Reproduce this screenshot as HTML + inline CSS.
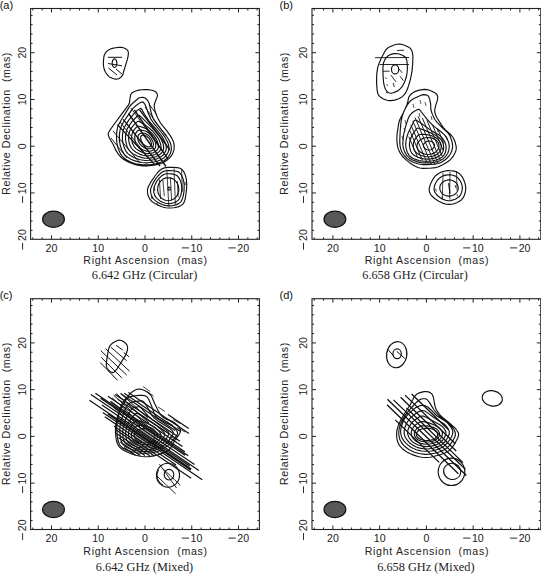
<!DOCTYPE html>
<html><head><meta charset="utf-8"><style>
html,body{margin:0;padding:0;background:#fff;}
svg{display:block;}
.t{font-family:"Liberation Sans",sans-serif;font-size:10.6px;fill:#222;}
.cap{font-family:"Liberation Serif",serif;font-size:12.3px;fill:#222;}
.pl{font-family:"Liberation Sans",sans-serif;font-size:11px;fill:#111;}
</style></head><body>
<svg width="541" height="574" viewBox="0 0 541 574">
<rect width="541" height="574" fill="#fff"/>
<rect x="30.60" y="8.50" width="228.80" height="230.80" fill="none" stroke="#222" stroke-width="1.1"/>
<path d="M257.20 239.30v-2.0M257.20 8.50v2.0M247.85 239.30v-2.0M247.85 8.50v2.0M238.50 239.30v-4.0M238.50 8.50v4.0M229.15 239.30v-2.0M229.15 8.50v2.0M219.80 239.30v-2.0M219.80 8.50v2.0M210.45 239.30v-2.0M210.45 8.50v2.0M201.10 239.30v-2.0M201.10 8.50v2.0M191.75 239.30v-4.0M191.75 8.50v4.0M182.40 239.30v-2.0M182.40 8.50v2.0M173.05 239.30v-2.0M173.05 8.50v2.0M163.70 239.30v-2.0M163.70 8.50v2.0M154.35 239.30v-2.0M154.35 8.50v2.0M145.00 239.30v-4.0M145.00 8.50v4.0M135.65 239.30v-2.0M135.65 8.50v2.0M126.30 239.30v-2.0M126.30 8.50v2.0M116.95 239.30v-2.0M116.95 8.50v2.0M107.60 239.30v-2.0M107.60 8.50v2.0M98.25 239.30v-4.0M98.25 8.50v4.0M88.90 239.30v-2.0M88.90 8.50v2.0M79.55 239.30v-2.0M79.55 8.50v2.0M70.20 239.30v-2.0M70.20 8.50v2.0M60.85 239.30v-2.0M60.85 8.50v2.0M51.50 239.30v-4.0M51.50 8.50v4.0M42.15 239.30v-2.0M42.15 8.50v2.0M32.80 239.30v-2.0M32.80 8.50v2.0M30.60 230.35h2.0M259.40 230.35h-2.0M30.60 221.00h2.0M259.40 221.00h-2.0M30.60 211.65h2.0M259.40 211.65h-2.0M30.60 202.30h2.0M259.40 202.30h-2.0M30.60 192.95h4.0M259.40 192.95h-4.0M30.60 183.60h2.0M259.40 183.60h-2.0M30.60 174.25h2.0M259.40 174.25h-2.0M30.60 164.90h2.0M259.40 164.90h-2.0M30.60 155.55h2.0M259.40 155.55h-2.0M30.60 146.20h4.0M259.40 146.20h-4.0M30.60 136.85h2.0M259.40 136.85h-2.0M30.60 127.50h2.0M259.40 127.50h-2.0M30.60 118.15h2.0M259.40 118.15h-2.0M30.60 108.80h2.0M259.40 108.80h-2.0M30.60 99.45h4.0M259.40 99.45h-4.0M30.60 90.10h2.0M259.40 90.10h-2.0M30.60 80.75h2.0M259.40 80.75h-2.0M30.60 71.40h2.0M259.40 71.40h-2.0M30.60 62.05h2.0M259.40 62.05h-2.0M30.60 52.70h4.0M259.40 52.70h-4.0M30.60 43.35h2.0M259.40 43.35h-2.0M30.60 34.00h2.0M259.40 34.00h-2.0M30.60 24.65h2.0M259.40 24.65h-2.0M30.60 15.30h2.0M259.40 15.30h-2.0" stroke="#222" stroke-width="1" fill="none"/>
<text x="51.50" y="251.50" class="t" text-anchor="middle">20</text>
<text x="98.25" y="251.50" class="t" text-anchor="middle">10</text>
<text x="145.00" y="251.50" class="t" text-anchor="middle">0</text>
<text x="190.55" y="251.50" class="t">10</text>
<path d="M181.75 247.90h7.3" stroke="#222" stroke-width="0.95"/>
<text x="237.30" y="251.50" class="t">20</text>
<path d="M228.50 247.90h7.3" stroke="#222" stroke-width="0.95"/>
<text transform="translate(26.20 52.70) rotate(-90)" class="t" text-anchor="middle">20</text>
<text transform="translate(26.20 99.45) rotate(-90)" class="t" text-anchor="middle">10</text>
<text transform="translate(26.20 146.20) rotate(-90)" class="t" text-anchor="middle">0</text>
<text transform="translate(26.20 194.25) rotate(-90)" class="t">10</text>
<path d="M22.60 196.15v6.8" stroke="#222" stroke-width="0.95"/>
<text transform="translate(26.20 241.00) rotate(-90)" class="t">20</text>
<path d="M22.60 242.90v6.8" stroke="#222" stroke-width="0.95"/>
<text x="83.30" y="264.20" class="t" textLength="123.8" lengthAdjust="spacing">Right Ascension  (mas)</text>
<text transform="translate(10.40 194.80) rotate(-90)" class="t" textLength="142.2" lengthAdjust="spacing">Relative Declination  (mas)</text>
<text x="144.50" y="279.20" class="cap" text-anchor="middle">6.642 GHz (Circular)</text>
<text x="-0.30" y="9.00" class="pl">(a)</text>
<ellipse cx="53.51" cy="219.32" rx="10.9" ry="8.1" fill="#585858" stroke="#111" stroke-width="1.2"/>
<rect x="312.00" y="8.50" width="228.80" height="230.80" fill="none" stroke="#222" stroke-width="1.1"/>
<path d="M538.60 239.30v-2.0M538.60 8.50v2.0M529.25 239.30v-2.0M529.25 8.50v2.0M519.90 239.30v-4.0M519.90 8.50v4.0M510.55 239.30v-2.0M510.55 8.50v2.0M501.20 239.30v-2.0M501.20 8.50v2.0M491.85 239.30v-2.0M491.85 8.50v2.0M482.50 239.30v-2.0M482.50 8.50v2.0M473.15 239.30v-4.0M473.15 8.50v4.0M463.80 239.30v-2.0M463.80 8.50v2.0M454.45 239.30v-2.0M454.45 8.50v2.0M445.10 239.30v-2.0M445.10 8.50v2.0M435.75 239.30v-2.0M435.75 8.50v2.0M426.40 239.30v-4.0M426.40 8.50v4.0M417.05 239.30v-2.0M417.05 8.50v2.0M407.70 239.30v-2.0M407.70 8.50v2.0M398.35 239.30v-2.0M398.35 8.50v2.0M389.00 239.30v-2.0M389.00 8.50v2.0M379.65 239.30v-4.0M379.65 8.50v4.0M370.30 239.30v-2.0M370.30 8.50v2.0M360.95 239.30v-2.0M360.95 8.50v2.0M351.60 239.30v-2.0M351.60 8.50v2.0M342.25 239.30v-2.0M342.25 8.50v2.0M332.90 239.30v-4.0M332.90 8.50v4.0M323.55 239.30v-2.0M323.55 8.50v2.0M314.20 239.30v-2.0M314.20 8.50v2.0M312.00 230.35h2.0M540.80 230.35h-2.0M312.00 221.00h2.0M540.80 221.00h-2.0M312.00 211.65h2.0M540.80 211.65h-2.0M312.00 202.30h2.0M540.80 202.30h-2.0M312.00 192.95h4.0M540.80 192.95h-4.0M312.00 183.60h2.0M540.80 183.60h-2.0M312.00 174.25h2.0M540.80 174.25h-2.0M312.00 164.90h2.0M540.80 164.90h-2.0M312.00 155.55h2.0M540.80 155.55h-2.0M312.00 146.20h4.0M540.80 146.20h-4.0M312.00 136.85h2.0M540.80 136.85h-2.0M312.00 127.50h2.0M540.80 127.50h-2.0M312.00 118.15h2.0M540.80 118.15h-2.0M312.00 108.80h2.0M540.80 108.80h-2.0M312.00 99.45h4.0M540.80 99.45h-4.0M312.00 90.10h2.0M540.80 90.10h-2.0M312.00 80.75h2.0M540.80 80.75h-2.0M312.00 71.40h2.0M540.80 71.40h-2.0M312.00 62.05h2.0M540.80 62.05h-2.0M312.00 52.70h4.0M540.80 52.70h-4.0M312.00 43.35h2.0M540.80 43.35h-2.0M312.00 34.00h2.0M540.80 34.00h-2.0M312.00 24.65h2.0M540.80 24.65h-2.0M312.00 15.30h2.0M540.80 15.30h-2.0" stroke="#222" stroke-width="1" fill="none"/>
<text x="332.90" y="251.50" class="t" text-anchor="middle">20</text>
<text x="379.65" y="251.50" class="t" text-anchor="middle">10</text>
<text x="426.40" y="251.50" class="t" text-anchor="middle">0</text>
<text x="471.95" y="251.50" class="t">10</text>
<path d="M463.15 247.90h7.3" stroke="#222" stroke-width="0.95"/>
<text x="518.70" y="251.50" class="t">20</text>
<path d="M509.90 247.90h7.3" stroke="#222" stroke-width="0.95"/>
<text transform="translate(307.10 52.70) rotate(-90)" class="t" text-anchor="middle">20</text>
<text transform="translate(307.10 99.45) rotate(-90)" class="t" text-anchor="middle">10</text>
<text transform="translate(307.10 146.20) rotate(-90)" class="t" text-anchor="middle">0</text>
<text transform="translate(307.10 194.25) rotate(-90)" class="t">10</text>
<path d="M303.50 196.15v6.8" stroke="#222" stroke-width="0.95"/>
<text transform="translate(307.10 241.00) rotate(-90)" class="t">20</text>
<path d="M303.50 242.90v6.8" stroke="#222" stroke-width="0.95"/>
<text x="364.70" y="264.20" class="t" textLength="123.8" lengthAdjust="spacing">Right Ascension  (mas)</text>
<text transform="translate(288.40 194.80) rotate(-90)" class="t" textLength="142.2" lengthAdjust="spacing">Relative Declination  (mas)</text>
<text x="415.00" y="279.20" class="cap" text-anchor="middle">6.658 GHz (Circular)</text>
<text x="279.50" y="9.00" class="pl">(b)</text>
<ellipse cx="334.91" cy="219.32" rx="10.9" ry="8.1" fill="#585858" stroke="#111" stroke-width="1.2"/>
<rect x="30.60" y="298.70" width="228.80" height="230.80" fill="none" stroke="#222" stroke-width="1.1"/>
<path d="M257.20 529.50v-2.0M257.20 298.70v2.0M247.85 529.50v-2.0M247.85 298.70v2.0M238.50 529.50v-4.0M238.50 298.70v4.0M229.15 529.50v-2.0M229.15 298.70v2.0M219.80 529.50v-2.0M219.80 298.70v2.0M210.45 529.50v-2.0M210.45 298.70v2.0M201.10 529.50v-2.0M201.10 298.70v2.0M191.75 529.50v-4.0M191.75 298.70v4.0M182.40 529.50v-2.0M182.40 298.70v2.0M173.05 529.50v-2.0M173.05 298.70v2.0M163.70 529.50v-2.0M163.70 298.70v2.0M154.35 529.50v-2.0M154.35 298.70v2.0M145.00 529.50v-4.0M145.00 298.70v4.0M135.65 529.50v-2.0M135.65 298.70v2.0M126.30 529.50v-2.0M126.30 298.70v2.0M116.95 529.50v-2.0M116.95 298.70v2.0M107.60 529.50v-2.0M107.60 298.70v2.0M98.25 529.50v-4.0M98.25 298.70v4.0M88.90 529.50v-2.0M88.90 298.70v2.0M79.55 529.50v-2.0M79.55 298.70v2.0M70.20 529.50v-2.0M70.20 298.70v2.0M60.85 529.50v-2.0M60.85 298.70v2.0M51.50 529.50v-4.0M51.50 298.70v4.0M42.15 529.50v-2.0M42.15 298.70v2.0M32.80 529.50v-2.0M32.80 298.70v2.0M30.60 520.55h2.0M259.40 520.55h-2.0M30.60 511.20h2.0M259.40 511.20h-2.0M30.60 501.85h2.0M259.40 501.85h-2.0M30.60 492.50h2.0M259.40 492.50h-2.0M30.60 483.15h4.0M259.40 483.15h-4.0M30.60 473.80h2.0M259.40 473.80h-2.0M30.60 464.45h2.0M259.40 464.45h-2.0M30.60 455.10h2.0M259.40 455.10h-2.0M30.60 445.75h2.0M259.40 445.75h-2.0M30.60 436.40h4.0M259.40 436.40h-4.0M30.60 427.05h2.0M259.40 427.05h-2.0M30.60 417.70h2.0M259.40 417.70h-2.0M30.60 408.35h2.0M259.40 408.35h-2.0M30.60 399.00h2.0M259.40 399.00h-2.0M30.60 389.65h4.0M259.40 389.65h-4.0M30.60 380.30h2.0M259.40 380.30h-2.0M30.60 370.95h2.0M259.40 370.95h-2.0M30.60 361.60h2.0M259.40 361.60h-2.0M30.60 352.25h2.0M259.40 352.25h-2.0M30.60 342.90h4.0M259.40 342.90h-4.0M30.60 333.55h2.0M259.40 333.55h-2.0M30.60 324.20h2.0M259.40 324.20h-2.0M30.60 314.85h2.0M259.40 314.85h-2.0M30.60 305.50h2.0M259.40 305.50h-2.0" stroke="#222" stroke-width="1" fill="none"/>
<text x="51.50" y="541.70" class="t" text-anchor="middle">20</text>
<text x="98.25" y="541.70" class="t" text-anchor="middle">10</text>
<text x="145.00" y="541.70" class="t" text-anchor="middle">0</text>
<text x="190.55" y="541.70" class="t">10</text>
<path d="M181.75 538.10h7.3" stroke="#222" stroke-width="0.95"/>
<text x="237.30" y="541.70" class="t">20</text>
<path d="M228.50 538.10h7.3" stroke="#222" stroke-width="0.95"/>
<text transform="translate(26.20 342.90) rotate(-90)" class="t" text-anchor="middle">20</text>
<text transform="translate(26.20 389.65) rotate(-90)" class="t" text-anchor="middle">10</text>
<text transform="translate(26.20 436.40) rotate(-90)" class="t" text-anchor="middle">0</text>
<text transform="translate(26.20 484.45) rotate(-90)" class="t">10</text>
<path d="M22.60 486.35v6.8" stroke="#222" stroke-width="0.95"/>
<text transform="translate(26.20 531.20) rotate(-90)" class="t">20</text>
<path d="M22.60 533.10v6.8" stroke="#222" stroke-width="0.95"/>
<text x="83.30" y="554.90" class="t" textLength="123.8" lengthAdjust="spacing">Right Ascension  (mas)</text>
<text transform="translate(10.40 485.00) rotate(-90)" class="t" textLength="142.2" lengthAdjust="spacing">Relative Declination  (mas)</text>
<text x="144.50" y="571.40" class="cap" text-anchor="middle">6.642 GHz (Mixed)</text>
<text x="-0.30" y="299.20" class="pl">(c)</text>
<ellipse cx="53.51" cy="509.52" rx="10.9" ry="8.1" fill="#585858" stroke="#111" stroke-width="1.2"/>
<rect x="312.00" y="298.70" width="228.80" height="230.80" fill="none" stroke="#222" stroke-width="1.1"/>
<path d="M538.60 529.50v-2.0M538.60 298.70v2.0M529.25 529.50v-2.0M529.25 298.70v2.0M519.90 529.50v-4.0M519.90 298.70v4.0M510.55 529.50v-2.0M510.55 298.70v2.0M501.20 529.50v-2.0M501.20 298.70v2.0M491.85 529.50v-2.0M491.85 298.70v2.0M482.50 529.50v-2.0M482.50 298.70v2.0M473.15 529.50v-4.0M473.15 298.70v4.0M463.80 529.50v-2.0M463.80 298.70v2.0M454.45 529.50v-2.0M454.45 298.70v2.0M445.10 529.50v-2.0M445.10 298.70v2.0M435.75 529.50v-2.0M435.75 298.70v2.0M426.40 529.50v-4.0M426.40 298.70v4.0M417.05 529.50v-2.0M417.05 298.70v2.0M407.70 529.50v-2.0M407.70 298.70v2.0M398.35 529.50v-2.0M398.35 298.70v2.0M389.00 529.50v-2.0M389.00 298.70v2.0M379.65 529.50v-4.0M379.65 298.70v4.0M370.30 529.50v-2.0M370.30 298.70v2.0M360.95 529.50v-2.0M360.95 298.70v2.0M351.60 529.50v-2.0M351.60 298.70v2.0M342.25 529.50v-2.0M342.25 298.70v2.0M332.90 529.50v-4.0M332.90 298.70v4.0M323.55 529.50v-2.0M323.55 298.70v2.0M314.20 529.50v-2.0M314.20 298.70v2.0M312.00 520.55h2.0M540.80 520.55h-2.0M312.00 511.20h2.0M540.80 511.20h-2.0M312.00 501.85h2.0M540.80 501.85h-2.0M312.00 492.50h2.0M540.80 492.50h-2.0M312.00 483.15h4.0M540.80 483.15h-4.0M312.00 473.80h2.0M540.80 473.80h-2.0M312.00 464.45h2.0M540.80 464.45h-2.0M312.00 455.10h2.0M540.80 455.10h-2.0M312.00 445.75h2.0M540.80 445.75h-2.0M312.00 436.40h4.0M540.80 436.40h-4.0M312.00 427.05h2.0M540.80 427.05h-2.0M312.00 417.70h2.0M540.80 417.70h-2.0M312.00 408.35h2.0M540.80 408.35h-2.0M312.00 399.00h2.0M540.80 399.00h-2.0M312.00 389.65h4.0M540.80 389.65h-4.0M312.00 380.30h2.0M540.80 380.30h-2.0M312.00 370.95h2.0M540.80 370.95h-2.0M312.00 361.60h2.0M540.80 361.60h-2.0M312.00 352.25h2.0M540.80 352.25h-2.0M312.00 342.90h4.0M540.80 342.90h-4.0M312.00 333.55h2.0M540.80 333.55h-2.0M312.00 324.20h2.0M540.80 324.20h-2.0M312.00 314.85h2.0M540.80 314.85h-2.0M312.00 305.50h2.0M540.80 305.50h-2.0" stroke="#222" stroke-width="1" fill="none"/>
<text x="332.90" y="541.70" class="t" text-anchor="middle">20</text>
<text x="379.65" y="541.70" class="t" text-anchor="middle">10</text>
<text x="426.40" y="541.70" class="t" text-anchor="middle">0</text>
<text x="471.95" y="541.70" class="t">10</text>
<path d="M463.15 538.10h7.3" stroke="#222" stroke-width="0.95"/>
<text x="518.70" y="541.70" class="t">20</text>
<path d="M509.90 538.10h7.3" stroke="#222" stroke-width="0.95"/>
<text transform="translate(307.10 342.90) rotate(-90)" class="t" text-anchor="middle">20</text>
<text transform="translate(307.10 389.65) rotate(-90)" class="t" text-anchor="middle">10</text>
<text transform="translate(307.10 436.40) rotate(-90)" class="t" text-anchor="middle">0</text>
<text transform="translate(307.10 484.45) rotate(-90)" class="t">10</text>
<path d="M303.50 486.35v6.8" stroke="#222" stroke-width="0.95"/>
<text transform="translate(307.10 531.20) rotate(-90)" class="t">20</text>
<path d="M303.50 533.10v6.8" stroke="#222" stroke-width="0.95"/>
<text x="364.70" y="554.90" class="t" textLength="123.8" lengthAdjust="spacing">Right Ascension  (mas)</text>
<text transform="translate(288.40 485.00) rotate(-90)" class="t" textLength="142.2" lengthAdjust="spacing">Relative Declination  (mas)</text>
<text x="425.90" y="571.40" class="cap" text-anchor="middle">6.658 GHz (Mixed)</text>
<text x="279.50" y="299.20" class="pl">(d)</text>
<ellipse cx="334.91" cy="509.52" rx="10.9" ry="8.1" fill="#585858" stroke="#111" stroke-width="1.2"/>
<path d="M103.4 61.3 103.9 56.9 104.2 55.3 104.8 54.0 106.1 52.2 107.1 51.1 109.0 49.7 110.5 49.0 112.3 48.4 115.5 47.8 118.7 47.4 121.3 47.4 123.4 47.8 125.6 48.7 127.2 49.9 127.9 50.9 128.3 52.1 128.4 53.5 128.1 56.1 127.3 59.7 123.8 71.0 123.1 73.9 122.4 75.4 121.3 76.9 120.2 77.8 119.1 78.5 117.4 79.0 116.0 79.1 114.5 78.9 112.8 78.5 110.0 77.3 109.0 76.6 107.6 75.2 105.6 72.5 104.4 69.8 103.8 67.6 103.4 65.0 103.4 61.3ZM116.8 63.1 116.8 63.5 116.8 63.9 116.7 64.3 116.6 64.7 116.5 65.1 116.4 65.4 116.3 65.8 116.1 66.1 116.0 66.3 115.8 66.6 115.6 66.8 115.4 67.0 115.2 67.1 114.9 67.2 114.7 67.3 114.5 67.3 114.3 67.3 114.1 67.2 113.8 67.1 113.6 67.0 113.4 66.8 113.2 66.6 113.0 66.3 112.9 66.1 112.7 65.8 112.6 65.4 112.5 65.1 112.4 64.7 112.3 64.3 112.2 63.9 112.2 63.5 112.2 63.1 112.2 62.7 112.2 62.3 112.3 61.9 112.4 61.5 112.5 61.1 112.6 60.8 112.7 60.4 112.9 60.1 113.0 59.9 113.2 59.6 113.4 59.4 113.6 59.2 113.8 59.1 114.1 59.0 114.3 58.9 114.5 58.9 114.7 58.9 114.9 59.0 115.2 59.1 115.4 59.2 115.6 59.4 115.8 59.6 116.0 59.9 116.1 60.1 116.3 60.4 116.4 60.8 116.5 61.1 116.6 61.5 116.7 61.9 116.8 62.3 116.8 62.7Z" fill="none" stroke="#111" stroke-width="1.15" stroke-linejoin="round"/>
<path d="M108.0 57.3L122.0 57.3M108.0 63.5L122.0 65.8M108.5 68.0L117.0 75.0M116.0 69.0L122.5 74.5" stroke="#111" stroke-width="1.0" fill="none" stroke-linecap="butt"/>
<path d="M130.0 98.5 130.6 95.2 131.0 94.2 131.6 93.3 132.5 92.5 134.4 91.5 136.5 90.7 138.9 90.1 141.7 89.7 144.6 89.6 147.3 89.6 150.6 90.0 152.9 90.5 154.7 91.2 156.0 92.2 156.9 93.4 157.4 94.7 157.4 96.1 154.8 103.0 154.2 105.4 154.2 106.7 154.5 108.7 155.5 112.5 157.6 117.8 160.2 122.5 162.3 125.3 166.9 130.9 170.2 135.6 171.9 138.4 173.5 141.8 174.2 144.8 174.2 146.9 173.9 149.9 173.2 152.2 172.2 154.4 170.8 156.5 168.8 158.6 166.5 160.6 163.9 162.3 161.9 163.2 158.6 164.2 153.9 165.1 149.4 165.7 145.9 165.9 142.6 165.9 139.4 165.5 136.3 164.9 133.4 164.0 129.4 162.5 125.4 160.4 122.8 158.7 121.3 157.5 119.5 155.7 117.6 153.1 115.9 150.4 113.2 144.5 109.8 138.7 108.8 136.5 108.2 134.8 108.2 134.0 108.4 133.0 109.6 130.7 114.3 124.0 120.3 115.8 128.4 105.1 129.4 102.9 130.0 98.5ZM134.4 101.7 138.2 98.5 139.3 97.8 140.5 97.5 142.2 97.3 144.0 97.6 145.5 98.3 147.1 99.7 148.4 101.7 149.3 103.7 151.0 112.0 152.5 116.8 154.0 120.0 156.8 124.0 165.9 135.2 168.2 138.7 170.1 142.3 171.0 145.0 171.4 148.3 171.3 149.9 171.0 151.5 170.2 153.8 168.3 156.8 166.5 158.8 164.2 160.5 161.4 162.0 158.3 163.1 155.0 164.0 152.7 164.4 149.1 164.8 143.0 164.8 139.4 164.4 135.8 163.7 132.4 162.7 130.4 161.9 127.4 160.3 125.6 159.2 123.2 157.2 121.9 155.8 120.7 154.2 119.4 151.6 118.3 148.9 117.5 146.1 116.9 143.1 116.6 140.0 116.5 136.0 116.7 132.8 117.1 129.8 117.7 127.1 119.0 124.1 121.8 119.0 128.7 107.9 130.0 106.0 131.3 104.5 134.4 101.7ZM150.5 146.4 149.8 146.8 149.0 146.9 148.0 146.9 147.0 146.6 144.9 145.4 142.9 143.6 141.4 141.3 140.7 139.0 140.6 138.0 140.7 137.0 141.0 136.2 141.5 135.6 142.2 135.2 143.0 135.1 144.0 135.1 145.0 135.4 147.1 136.6 149.1 138.4 150.6 140.7 151.3 143.0 151.4 144.0 151.3 145.0 151.0 145.8 150.5 146.4ZM147.9 162.8 144.9 162.8 141.7 162.5 135.7 161.1 131.4 159.5 128.9 158.1 126.4 156.3 125.0 155.1 123.8 153.6 121.7 149.8 120.2 145.3 119.4 140.1 119.4 134.6 120.2 129.3 121.4 126.1 124.0 121.3 128.8 114.1 133.2 108.2 135.2 106.3 139.7 102.9 141.7 102.0 142.7 102.1 143.4 102.4 144.8 104.1 145.8 106.3 148.2 113.1 150.9 119.1 153.4 122.8 161.9 133.0 164.7 136.8 167.7 142.3 168.5 144.8 168.9 146.8 168.8 149.8 168.0 152.6 165.9 155.9 163.9 157.8 160.9 159.7 157.2 161.2 152.7 162.3 147.9 162.8ZM150.2 160.3 145.2 160.5 140.2 159.7 135.2 158.1 131.2 156.0 127.9 153.6 126.0 151.3 124.3 147.8 123.0 143.3 122.4 139.3 122.5 134.8 123.2 130.3 124.4 127.3 128.4 120.6 134.2 113.4 137.3 110.3 140.4 108.4 141.1 108.6 141.6 109.1 144.5 114.3 149.1 121.1 156.9 130.1 161.7 136.1 164.5 141.1 165.5 143.3 166.2 145.8 166.3 148.6 165.8 150.8 164.5 153.3 162.9 155.3 160.4 157.1 157.4 158.6 153.9 159.7 150.2 160.3ZM149.7 158.1 145.9 158.2 142.2 157.6 137.7 156.2 134.3 154.6 131.4 152.6 129.1 150.3 127.5 147.6 126.3 144.1 125.6 139.8 125.5 136.1 126.0 132.6 126.8 129.6 128.8 126.1 131.9 121.7 135.9 117.5 137.7 115.9 138.7 115.3 139.4 115.5 140.2 116.1 152.2 127.8 155.8 131.8 158.7 135.3 160.7 138.3 162.2 141.6 163.3 144.6 163.7 147.1 163.5 149.3 162.7 151.3 161.2 153.3 159.0 155.1 156.2 156.5 152.9 157.6 149.7 158.1ZM148.9 155.8 145.9 155.8 142.9 155.2 139.5 154.1 136.5 152.6 134.0 150.8 131.9 148.8 130.7 146.9 129.5 144.1 128.8 140.8 128.6 137.3 128.8 134.3 129.6 131.3 131.0 128.6 133.2 125.6 135.9 122.8 137.9 121.4 138.7 121.3 139.4 121.6 145.9 125.6 148.7 127.6 152.2 130.7 154.8 133.6 157.4 137.1 159.1 139.8 160.3 143.1 160.9 145.6 161.1 148.1 160.5 149.8 159.4 151.4 157.5 153.1 154.9 154.5 151.9 155.4 148.9 155.8ZM147.4 153.6 145.4 153.4 142.7 152.5 139.9 151.3 137.9 150.1 136.0 148.6 134.3 146.8 132.5 143.3 131.9 140.8 131.6 138.6 131.7 135.8 132.2 133.6 133.0 131.6 134.2 129.6 136.2 127.4 137.7 126.3 138.7 126.2 140.2 126.5 144.4 127.9 146.7 129.0 149.4 131.0 151.8 133.1 154.3 136.1 156.3 139.1 157.4 141.6 158.2 144.1 158.4 146.8 158.2 148.3 157.4 149.7 155.4 151.4 153.2 152.7 150.4 153.4 147.4 153.6ZM150.4 151.1 146.7 151.2 143.2 150.0 141.2 148.9 139.2 147.5 137.5 145.8 136.4 144.4 135.5 142.6 135.0 140.8 134.7 136.6 135.1 134.8 135.8 133.1 136.7 131.7 137.7 130.8 139.2 130.2 141.2 130.1 144.2 130.7 145.9 131.3 148.4 132.8 150.2 134.2 151.9 136.1 153.7 138.6 154.9 140.8 155.6 143.1 155.8 144.8 155.7 147.1 155.1 148.3 153.8 149.6 152.2 150.5 150.4 151.1ZM149.9 148.8 147.2 148.9 144.9 148.1 141.9 146.1 139.6 143.6 138.2 140.8 137.8 137.8 138.2 135.6 138.9 134.6 139.7 133.8 140.7 133.3 141.9 133.0 144.2 133.2 145.4 133.5 148.7 135.6 151.4 138.7 153.0 141.8 153.4 143.8 153.4 145.3 153.0 146.6 152.3 147.6 151.2 148.4 149.9 148.8Z" fill="none" stroke="#111" stroke-width="1.15" stroke-linejoin="round"/>
<path d="M128.5 113.5L166.0 166.5M123.3 119.4L160.0 166.0M134.4 109.8L168.1 159.2M117.4 124.6L154.5 164.4M139.6 109.8L170.0 150.0" stroke="#111" stroke-width="1.35" fill="none" stroke-linecap="butt"/>
<path d="M113.0 131.0L140.0 163.0M145.0 107.0L166.0 136.0M149.0 104.0L157.0 115.0M111.0 138.0L127.0 158.0M131.0 108.0L163.0 152.0M120.0 122.0L150.0 160.0" stroke="#111" stroke-width="0.9" fill="none" stroke-linecap="butt"/>
<path d="M172.3 167.4 177.3 167.6 180.1 168.3 180.9 168.7 182.3 169.8 183.5 171.3 184.5 173.1 185.3 175.1 185.9 177.4 186.4 179.7 186.6 182.4 186.7 185.3 186.5 189.6 185.5 197.3 184.7 200.7 183.9 202.6 182.8 204.1 180.7 205.8 178.0 206.9 174.0 207.8 169.3 208.0 165.6 207.7 161.9 206.7 157.9 205.1 154.1 203.1 152.0 201.5 151.1 200.7 149.7 198.9 148.2 195.8 147.5 192.6 147.5 189.5 148.4 186.5 150.6 182.4 155.3 175.5 157.2 173.0 159.3 170.8 161.3 169.2 162.3 168.6 164.5 167.9 167.9 167.4 172.3 167.4ZM178.8 189.2 178.6 191.4 178.0 193.6 177.0 195.6 175.7 197.3 174.1 198.8 172.3 199.8 170.3 200.5 168.2 200.7 166.1 200.5 164.1 199.8 162.3 198.8 160.7 197.3 159.4 195.6 158.4 193.6 157.8 191.4 157.6 189.2 157.8 187.0 158.4 184.8 159.4 182.8 160.7 181.1 162.3 179.6 164.1 178.6 166.1 177.9 168.2 177.7 170.3 177.9 172.3 178.6 174.1 179.6 175.7 181.1 177.0 182.8 178.0 184.8 178.6 187.0 178.8 189.2ZM172.1 205.7 168.6 205.9 165.1 205.4 162.1 204.5 158.1 202.6 155.3 200.6 153.1 198.6 151.7 196.1 150.7 192.9 150.5 189.9 151.1 187.4 152.9 183.4 155.3 179.4 157.9 176.0 160.6 173.3 163.1 171.6 165.6 170.8 168.4 170.5 173.4 170.7 176.4 171.2 178.6 171.9 180.1 173.2 181.6 175.4 182.9 178.4 183.7 181.4 184.2 184.6 184.0 191.4 183.1 196.6 181.9 200.1 180.6 202.1 178.6 203.6 175.6 204.9 172.1 205.7ZM171.1 203.4 168.4 203.6 165.4 203.2 162.6 202.3 160.0 200.9 157.4 198.9 155.6 196.9 154.5 194.9 153.8 192.1 153.7 189.6 154.2 186.9 155.4 183.9 157.1 180.8 158.9 178.5 161.4 176.1 163.9 174.5 166.1 173.8 169.1 173.7 171.6 173.9 175.1 174.7 176.9 175.5 178.2 176.9 179.8 179.4 180.7 181.6 181.5 184.6 181.8 187.9 181.6 191.6 180.9 195.1 179.5 198.4 178.3 200.1 176.4 201.6 173.9 202.7 171.1 203.4Z" fill="none" stroke="#111" stroke-width="1.15" stroke-linejoin="round"/>
<ellipse cx="169.10" cy="188.70" rx="1.20" ry="1.60" transform="rotate(0 169.10 188.70)" fill="none" stroke="#111" stroke-width="1.15"/>
<path d="M154.3 186.5L154.8 191.0M159.4 179.5L160.6 199.0M162.8 180.0L164.3 196.0M166.8 169.5L168.8 206.5M170.4 178.0L171.6 200.0M174.0 168.5L175.4 204.5M177.3 181.0L178.2 197.0M181.6 169.5L182.4 191.5M151.5 196.0L152.0 199.0M157.0 203.0L157.3 205.5M185.0 182.0L185.3 185.0" stroke="#111" stroke-width="0.8" fill="none" stroke-linecap="butt"/>
<path d="M399.9 44.1 402.1 44.5 404.6 45.2 408.3 46.9 410.3 48.3 411.0 49.2 412.0 51.2 412.6 53.6 412.9 56.2 412.7 63.8 412.0 71.3 410.5 79.0 408.6 85.7 406.8 90.5 405.4 93.2 404.5 94.4 402.6 96.4 401.4 97.3 398.8 98.7 394.6 100.1 390.7 100.6 389.5 100.6 387.0 100.2 383.4 99.0 380.4 97.1 379.0 95.7 378.4 94.9 377.7 93.2 377.3 91.2 377.0 88.9 376.6 83.0 376.6 79.3 376.8 73.4 377.7 67.7 378.8 64.1 381.1 58.5 384.4 52.3 385.7 50.1 386.8 48.8 388.3 47.6 394.0 45.0 396.9 44.2 398.9 44.0 399.9 44.1ZM396.0 53.6 397.9 53.8 399.9 54.3 402.8 55.5 404.5 56.5 405.1 57.0 406.0 58.2 406.8 60.4 407.2 63.9 407.4 68.3 407.0 73.5 406.2 77.3 405.0 81.0 403.3 84.6 401.3 87.7 399.6 89.4 396.6 91.4 393.2 92.8 391.3 93.2 390.4 93.2 388.9 92.8 388.2 92.5 387.0 91.5 385.5 89.3 384.4 86.4 383.6 82.5 383.1 76.6 382.9 69.0 383.2 64.5 383.6 62.6 384.6 60.1 385.9 58.0 387.5 56.3 389.4 55.0 391.8 54.1 394.3 53.6 396.0 53.6Z" fill="none" stroke="#111" stroke-width="1.15" stroke-linejoin="round"/>
<ellipse cx="395.10" cy="69.40" rx="3.60" ry="4.50" transform="rotate(0 395.10 69.40)" fill="none" stroke="#111" stroke-width="1.15"/>
<path d="M375.0 57.7L409.0 57.5M379.6 64.5L409.0 64.5M397.0 50.5L404.0 50.2M383.0 71.2L389.5 71.2M390.9 75.1L396.0 81.9M398.8 68.8L402.2 72.8M400.0 76.2L403.4 80.7M393.2 83.0L394.3 87.0M385.5 77.5L386.5 79.0M386.8 84.3L387.5 85.8M386.0 92.0L387.0 93.2" stroke="#111" stroke-width="0.9" fill="none" stroke-linecap="butt"/>
<path d="M408.9 97.0 409.8 95.6 411.2 94.0 413.0 92.7 414.9 91.6 416.7 90.9 419.7 90.1 422.5 89.6 424.4 89.4 427.3 89.6 429.3 90.2 431.4 91.0 435.3 93.1 436.6 94.2 437.4 95.3 437.7 96.9 437.4 100.4 435.7 105.3 434.7 109.8 434.8 112.0 435.6 115.1 436.9 117.8 441.6 125.1 443.4 127.7 445.2 129.7 450.0 134.0 452.2 136.3 453.2 137.8 454.2 139.7 455.2 142.3 455.9 145.1 456.3 147.6 456.2 149.0 456.0 150.4 455.1 152.8 453.5 155.8 451.3 158.7 449.8 160.2 447.3 162.0 442.7 164.7 440.0 166.1 437.9 167.0 435.4 167.6 429.8 168.2 422.6 168.4 419.9 168.0 418.1 167.5 415.3 166.3 412.6 164.7 409.2 162.4 406.6 160.4 404.2 158.2 402.2 156.0 400.6 153.7 399.3 151.4 398.3 148.9 397.5 146.1 397.1 143.0 396.8 139.0 397.0 134.5 398.6 123.8 399.3 121.0 400.0 119.2 404.2 110.9 407.0 104.4 407.7 102.3 408.4 98.6 408.9 97.0ZM408.9 102.6 410.9 100.5 413.4 98.7 421.6 94.9 423.9 94.6 426.3 94.9 427.9 95.7 428.7 96.6 429.5 98.7 430.6 103.5 430.7 104.8 430.7 107.9 431.0 110.0 432.1 113.6 433.7 117.4 435.2 120.0 437.1 122.3 441.9 127.3 446.8 131.7 448.5 133.7 449.8 135.7 450.7 137.8 451.5 140.0 452.3 143.1 452.6 145.6 452.5 148.0 451.6 151.3 450.5 153.7 449.0 156.0 447.0 158.2 444.6 160.3 441.9 162.0 440.0 162.9 437.9 163.5 434.5 164.1 431.1 164.4 426.7 164.6 423.3 164.6 420.1 164.2 417.9 163.8 414.8 162.8 412.7 162.0 409.9 160.5 408.2 159.4 406.7 158.2 404.6 156.0 403.5 154.5 402.1 152.2 401.4 150.7 400.6 148.4 400.1 145.9 399.8 143.1 399.8 140.0 400.2 130.8 401.0 121.9 401.9 117.3 403.6 112.1 406.1 106.9 407.3 104.9 408.9 102.6ZM414.8 120.2 415.4 120.2 416.1 120.3 418.9 121.7 431.0 130.4 439.1 135.1 441.4 137.1 443.2 139.2 444.9 142.1 445.7 144.5 446.1 147.1 446.0 149.7 445.5 152.1 444.6 154.2 443.2 156.0 441.4 157.6 439.9 158.5 438.2 159.3 436.3 160.0 433.2 160.8 428.7 161.3 423.7 161.2 421.3 160.9 419.0 160.5 414.7 159.1 412.7 158.2 410.9 157.0 409.4 155.7 408.8 154.9 407.3 152.2 406.6 150.2 406.1 148.1 405.8 146.1 405.7 144.1 406.1 140.2 407.3 135.5 408.3 132.8 414.0 121.0 414.3 120.5 414.8 120.2ZM439.0 146.0 438.8 147.7 438.2 149.3 437.1 150.7 435.8 152.0 434.1 153.1 432.2 153.9 430.1 154.3 428.0 154.5 425.9 154.3 423.8 153.9 421.9 153.1 420.2 152.0 418.9 150.7 417.8 149.3 417.2 147.7 417.0 146.0 417.2 144.3 417.8 142.7 418.9 141.3 420.2 140.0 421.9 138.9 423.8 138.1 425.9 137.7 428.0 137.5 430.1 137.7 432.2 138.1 434.1 138.9 435.8 140.0 437.1 141.3 438.2 142.7 438.8 144.3 439.0 146.0ZM434.5 145.5 434.4 146.4 434.1 147.2 432.9 148.7 431.1 149.7 429.0 150.0 426.9 149.7 425.1 148.7 423.9 147.2 423.6 146.4 423.5 145.5 423.6 144.6 423.9 143.8 425.1 142.3 426.9 141.3 429.0 141.0 431.1 141.3 432.9 142.3 434.1 143.8 434.4 144.6 434.5 145.5ZM431.8 162.7 429.6 162.9 424.3 162.9 421.1 162.6 416.8 161.6 412.6 160.0 409.5 158.2 406.9 155.7 404.9 152.4 403.6 148.9 403.0 145.9 402.8 143.2 403.5 135.2 405.8 125.9 408.1 118.7 409.4 115.9 411.6 113.3 414.3 111.2 417.8 109.4 418.8 109.3 419.8 110.0 427.2 119.4 431.8 124.4 435.3 127.4 442.3 132.8 444.8 135.2 447.2 138.7 448.8 142.9 449.3 146.4 448.9 149.9 447.8 153.2 445.5 156.7 443.1 158.9 439.8 160.8 436.3 161.9 431.8 162.7ZM430.6 158.9 428.1 159.1 424.3 159.0 421.3 158.4 418.2 157.4 415.3 156.0 413.3 154.7 411.8 153.1 410.7 151.2 409.8 148.2 409.4 144.9 409.5 143.2 410.2 140.2 411.3 136.9 412.8 134.2 415.8 129.7 417.3 128.2 418.8 128.3 424.8 130.4 432.1 133.5 436.1 135.5 438.2 136.9 440.2 138.7 441.4 140.2 442.7 142.4 443.4 144.7 443.7 148.2 443.1 151.2 441.8 153.5 440.0 155.4 437.6 156.9 434.6 158.1 430.6 158.9ZM429.8 156.7 427.1 156.8 424.6 156.5 420.3 155.3 416.6 153.0 415.1 151.4 414.3 150.2 413.6 148.4 413.3 146.2 413.3 144.2 413.7 142.2 414.6 140.1 415.8 137.9 417.6 135.8 419.1 134.7 421.6 134.3 425.1 134.4 429.8 135.2 432.3 136.0 435.1 137.3 437.1 138.6 439.2 140.7 440.4 142.7 441.1 144.7 441.2 147.7 440.7 149.9 439.6 151.9 437.6 153.9 435.6 155.1 432.6 156.2 429.8 156.7Z" fill="none" stroke="#111" stroke-width="1.15" stroke-linejoin="round"/>
<path d="M437.7 128.8L443.9 143.5M432.3 124.5L443.2 150.3M426.9 120.3L442.2 156.2M422.3 117.9L440.3 160.3M418.1 116.4L438.0 163.4M415.1 117.7L435.0 164.7M412.8 120.9L431.2 164.1M410.9 124.9L427.0 162.7M409.5 129.9L422.4 160.3M408.8 136.7L417.4 156.9" stroke="#111" stroke-width="0.95" fill="none" stroke-linecap="butt"/>
<path d="M405.0 120.0L406.0 124.0M404.0 128.0L405.0 132.0M402.0 136.0L403.0 140.0M413.0 104.0L414.0 108.0M420.0 100.0L421.0 104.0M425.0 102.0L426.0 106.0M419.0 113.0L420.0 117.0M431.0 116.0L432.0 120.0M437.0 128.0L438.0 132.0M446.0 136.0L447.0 140.0" stroke="#111" stroke-width="0.7" fill="none" stroke-linecap="butt"/>
<path d="M447.7 170.6 451.5 170.7 454.1 171.1 456.5 171.9 457.7 172.5 459.7 173.9 461.4 175.9 462.3 177.1 463.7 179.8 465.2 184.1 465.7 186.8 465.7 189.5 465.5 190.9 464.9 193.8 463.9 196.4 463.2 197.6 461.6 199.7 459.4 201.3 456.7 202.7 453.7 203.7 452.2 204.1 449.1 204.4 446.3 204.2 443.3 203.4 438.8 201.2 434.9 198.7 432.2 196.3 430.8 194.6 429.8 192.8 429.5 191.8 429.2 189.8 429.4 187.5 430.7 183.4 433.0 179.1 434.8 176.7 435.7 175.7 437.7 174.0 441.4 172.1 443.9 171.3 447.7 170.6ZM450.7 200.6 448.2 200.7 445.7 200.3 443.2 199.4 440.9 198.2 438.0 196.0 436.5 194.5 434.9 192.4 434.1 190.0 434.2 187.3 434.8 185.0 435.7 183.0 437.5 180.0 439.7 177.9 441.7 176.6 443.9 175.6 447.2 174.9 450.7 174.8 452.7 175.2 455.4 176.1 457.4 177.4 459.7 180.0 461.2 182.7 462.0 185.3 462.4 187.8 462.1 190.3 461.6 192.5 460.7 194.6 459.1 196.8 457.4 198.1 455.2 199.3 450.7 200.6ZM458.2 188.0 458.2 188.8 458.0 189.6 457.8 190.4 457.5 191.1 457.1 191.8 456.6 192.5 456.1 193.1 455.5 193.7 454.8 194.3 454.1 194.7 453.3 195.1 452.5 195.5 451.7 195.8 450.8 195.9 449.9 196.1 449.0 196.1 448.1 196.1 447.2 195.9 446.3 195.8 445.5 195.5 444.7 195.1 443.9 194.7 443.2 194.3 442.5 193.7 441.9 193.1 441.4 192.5 440.9 191.8 440.5 191.1 440.2 190.4 440.0 189.6 439.8 188.8 439.8 188.0 439.8 187.2 440.0 186.4 440.2 185.6 440.5 184.9 440.9 184.2 441.4 183.5 441.9 182.9 442.5 182.3 443.2 181.7 443.9 181.3 444.7 180.9 445.5 180.5 446.3 180.2 447.2 180.1 448.1 179.9 449.0 179.9 449.9 179.9 450.8 180.1 451.7 180.2 452.5 180.5 453.3 180.9 454.1 181.3 454.8 181.7 455.5 182.3 456.1 182.9 456.6 183.5 457.1 184.2 457.5 184.9 457.8 185.6 458.0 186.4 458.2 187.2Z" fill="none" stroke="#111" stroke-width="1.15" stroke-linejoin="round"/>
<path d="M450.0 172.0L449.6 197.0M456.5 171.1L457.0 190.5M443.1 172.9L442.2 198.8" stroke="#111" stroke-width="0.8" fill="none" stroke-linecap="butt"/>
<path d="M448.7 183.1L450.0 193.7" stroke="#111" stroke-width="1.2" fill="none" stroke-linecap="butt"/>
<path d="M435.7 188.6L436.2 191.4M455.2 185.0L455.6 187.8M442.2 196.5L442.6 199.3M449.6 196.5L450.0 199.7M457.0 194.2L457.4 196.5" stroke="#111" stroke-width="0.8" fill="none" stroke-linecap="butt"/>
<path d="M119.0 340.1 120.5 340.2 122.1 340.7 124.1 342.0 126.1 343.8 127.0 345.1 127.5 346.6 127.6 348.2 127.4 350.0 126.6 352.8 124.9 356.4 116.8 369.2 115.6 370.6 114.1 372.0 113.3 372.4 112.0 372.6 110.3 371.8 108.3 370.0 107.0 368.0 106.5 366.4 106.3 364.4 106.6 360.9 108.4 349.7 109.0 347.8 109.8 346.1 110.3 345.3 111.7 343.8 113.5 342.5 115.4 341.4 117.3 340.5 119.0 340.1Z" fill="none" stroke="#111" stroke-width="1.15" stroke-linejoin="round"/>
<path d="M100.7 350.6L126.6 375.0M101.2 357.3L121.8 377.9M100.3 362.6L117.5 380.3M105.5 348.7L129.5 371.2M110.8 347.2L126.6 360.7M116.1 345.3L122.8 350.1M123.7 352.5L129.0 356.8" stroke="#111" stroke-width="1.0" fill="none" stroke-linecap="butt"/>
<path d="M139.9 389.1 141.9 389.5 145.1 390.8 148.3 392.7 150.0 394.2 150.7 395.0 151.8 396.8 154.5 403.3 158.2 410.8 159.6 413.3 161.3 415.6 162.2 416.6 164.4 418.2 167.0 419.4 172.3 421.4 174.4 422.7 177.1 424.9 178.6 426.5 179.8 428.2 180.4 429.9 180.5 430.8 180.4 431.7 179.6 433.7 178.2 435.8 174.4 441.0 171.5 446.7 170.2 448.5 169.3 449.3 167.1 450.9 162.6 453.1 157.3 455.0 153.8 455.9 148.8 456.6 145.6 456.7 142.3 456.5 139.1 456.0 135.8 455.2 132.4 454.1 128.7 452.8 123.6 450.2 120.7 448.2 119.6 447.1 117.9 444.7 117.3 443.3 116.4 440.5 115.9 437.4 115.4 431.3 115.5 428.1 115.7 424.8 116.3 421.5 117.0 418.2 118.1 414.9 119.6 411.5 122.3 406.2 126.4 399.1 128.2 396.2 129.8 394.0 131.7 392.2 134.7 390.2 137.2 389.3 139.0 389.1 139.9 389.1ZM124.3 400.0 125.4 399.0 127.9 397.5 130.8 396.6 133.7 396.0 138.7 395.4 141.7 395.2 144.3 395.6 146.5 396.6 147.7 397.7 149.0 399.9 151.4 405.4 153.8 412.4 154.8 414.6 155.4 415.5 156.9 417.1 159.6 419.2 165.2 422.6 171.6 425.6 173.1 426.6 174.4 427.8 175.6 429.1 176.7 430.5 177.5 432.5 177.5 433.9 176.5 435.9 170.3 443.2 169.0 444.6 167.4 445.9 164.3 447.8 160.5 449.9 157.7 451.2 154.7 452.1 151.6 452.8 146.2 453.2 140.6 453.1 137.1 452.8 132.1 451.8 128.9 450.9 125.8 449.7 123.2 448.3 121.0 446.5 120.2 445.5 119.5 444.3 118.4 441.8 117.7 439.0 117.3 436.1 116.9 431.7 116.8 427.3 117.2 422.6 117.7 419.3 119.8 410.1 121.7 404.4 123.4 401.2 124.3 400.0ZM155.0 436.7 154.6 438.1 153.9 439.4 152.8 440.5 151.5 441.5 149.8 442.3 147.9 442.8 145.9 443.0 143.9 443.0 141.8 442.7 139.9 442.1 138.2 441.3 136.7 440.2 135.5 439.0 134.6 437.7 134.1 436.3 134.0 434.9 134.4 433.5 135.1 432.2 136.2 431.1 137.5 430.1 139.2 429.3 141.1 428.8 143.1 428.6 145.1 428.6 147.2 428.9 149.1 429.5 150.8 430.3 152.3 431.4 153.5 432.6 154.4 433.9 154.9 435.3 155.0 436.7ZM149.2 451.3 146.9 451.5 140.9 451.4 136.4 450.8 131.4 449.4 127.4 447.7 124.6 446.1 122.8 444.3 121.4 441.8 120.3 437.3 119.8 430.8 120.0 426.6 120.8 422.1 123.0 414.8 125.9 407.8 128.2 404.2 129.2 403.3 130.4 402.7 133.7 401.8 140.2 400.9 141.9 400.9 143.4 401.5 144.5 402.8 147.4 407.2 151.5 414.8 153.7 417.5 157.9 420.9 170.0 428.6 172.1 430.6 173.2 432.3 173.4 433.1 173.3 433.8 172.1 435.8 167.9 441.8 165.0 444.6 160.7 447.5 157.4 449.2 153.4 450.6 149.2 451.3ZM149.2 449.6 146.9 449.8 141.4 449.7 137.7 449.1 133.4 447.9 130.2 446.5 126.9 444.5 125.1 442.8 124.0 440.8 123.1 437.6 122.7 432.6 123.0 428.3 123.9 424.2 125.8 419.1 128.8 413.3 131.8 408.8 133.4 407.6 138.4 406.7 139.4 406.8 140.2 407.1 142.2 409.1 148.1 415.8 150.8 418.6 166.3 430.1 168.1 431.6 168.9 432.8 169.0 433.6 168.7 434.3 166.1 439.3 164.6 441.3 162.3 443.6 159.2 445.9 156.3 447.6 152.7 448.9 149.2 449.6ZM149.2 447.8 146.9 448.0 141.9 448.0 138.4 447.4 135.7 446.5 132.8 445.3 129.4 443.2 127.6 441.6 126.6 439.8 125.9 437.1 125.6 433.1 126.0 429.8 126.7 426.8 128.4 422.9 130.7 419.4 133.9 415.3 136.2 413.3 137.2 413.4 138.9 414.3 156.2 425.4 161.1 429.6 163.8 432.3 164.6 433.6 164.6 435.1 163.4 438.1 161.7 440.6 159.6 442.8 157.5 444.6 155.2 446.0 152.2 447.1 149.2 447.8ZM146.9 446.3 141.7 446.2 138.7 445.5 136.1 444.6 134.1 443.6 131.4 441.6 129.9 440.1 129.1 438.6 128.6 436.6 128.5 433.6 128.8 431.3 129.6 428.8 130.7 426.7 132.2 424.6 134.4 422.1 136.4 420.6 137.9 420.4 141.2 421.2 147.2 423.2 151.7 425.4 154.7 427.2 157.4 429.6 159.6 432.1 160.8 434.1 161.0 435.6 160.2 437.8 158.7 440.3 156.9 442.3 154.7 444.0 152.4 445.1 149.9 445.9 146.9 446.3ZM147.2 444.6 142.4 444.5 138.4 443.4 135.1 441.6 133.1 439.8 132.1 438.3 131.5 436.8 131.3 435.3 131.4 433.6 131.9 431.7 133.8 428.6 136.9 425.9 138.4 425.4 141.2 425.3 146.2 426.0 148.7 426.7 151.4 428.0 153.4 429.2 155.6 431.3 157.0 433.3 157.7 435.1 157.6 436.6 156.8 438.8 155.7 440.5 153.7 442.3 152.2 443.2 149.9 444.1 147.2 444.6Z" fill="none" stroke="#111" stroke-width="1.15" stroke-linejoin="round"/>
<path d="M145.5 428.7L153.9 433.2M142.7 428.6L154.8 435.0M140.6 428.9L154.9 436.5M139.0 429.5L154.6 437.8M137.5 430.1L154.1 438.9M136.4 430.9L153.4 439.9M135.4 431.8L152.4 440.8M134.7 432.9L151.2 441.6M134.2 434.0L149.8 442.3M134.1 435.4L147.9 442.7M134.3 436.9L145.7 443.0M135.3 438.9L142.8 442.8" stroke="#111" stroke-width="0.55" fill="none" stroke-linecap="butt"/>
<path d="M114.1 426.3L191.2 478.3M115.4 429.6L154.4 455.9M116.5 433.4L149.7 455.7M118.5 437.7L145.0 455.6M120.4 442.0L140.3 455.4M123.9 447.4L135.6 455.3M167.9 414.4L188.7 428.4M128.4 392.5L188.9 433.4M124.2 393.3L180.6 431.4M120.5 393.6L175.2 430.5M115.1 394.4L177.3 436.3M117.8 399.3L180.0 441.2M107.9 396.2L182.5 446.5M110.3 401.4L184.9 451.8M95.4 393.2L188.2 455.8M100.5 398.2L185.0 455.2M90.9 394.5L194.5 464.4M101.9 405.0L198.9 470.5M117.6 417.5L189.7 466.1M89.4 400.3L191.3 469.1M107.9 414.0L190.8 469.9M102.8 412.6L202.3 479.7M104.8 416.8L176.1 464.9" stroke="#111" stroke-width="1.2" fill="none" stroke-linecap="butt"/>
<path d="M121.2 393.9L147.9 418.0M116.2 393.5L148.9 422.9M113.4 395.0L148.4 426.5M112.2 397.9L144.9 427.4M111.6 401.5L141.4 428.3M112.6 406.4L136.4 427.8" stroke="#111" stroke-width="1.0" fill="none" stroke-linecap="butt"/>
<path d="M143.0 386.5L150.0 391.5M147.0 391.5L153.5 396.0M158.0 407.0L165.0 411.5M173.0 419.5L180.0 423.5M177.0 427.5L185.0 432.0M166.0 421.0L173.0 425.5M160.0 428.0L167.0 432.5M170.0 436.0L177.0 440.0" stroke="#111" stroke-width="0.8" fill="none" stroke-linecap="butt"/>
<ellipse cx="168.00" cy="475.20" rx="11.50" ry="12.00" transform="rotate(0 168.00 475.20)" fill="none" stroke="#111" stroke-width="1.15"/>
<ellipse cx="169.00" cy="474.70" rx="4.80" ry="5.30" transform="rotate(0 169.00 474.70)" fill="none" stroke="#111" stroke-width="1.15"/>
<path d="M158.5 470 A10.5 10.5 0 0 0 163 485" fill="none" stroke="#111" stroke-width="1.0"/>
<path d="M159.4 464.2L176.6 488.1M157.5 476.6L175.7 493.9M163.2 469.0L180.4 485.2" stroke="#111" stroke-width="0.9" fill="none" stroke-linecap="butt"/>
<ellipse cx="396.70" cy="354.70" rx="10.10" ry="13.10" transform="rotate(9 396.70 354.70)" fill="none" stroke="#111" stroke-width="1.15"/>
<ellipse cx="397.10" cy="353.80" rx="4.20" ry="4.90" transform="rotate(0 397.10 353.80)" fill="none" stroke="#111" stroke-width="1.15"/>
<path d="M388.4 350.0L394.0 356.3M396.7 351.4L404.8 358.4" stroke="#111" stroke-width="1.0" fill="none" stroke-linecap="butt"/>
<ellipse cx="492.30" cy="398.40" rx="10.20" ry="7.60" transform="rotate(10 492.30 398.40)" fill="none" stroke="#111" stroke-width="1.15"/>
<path d="M424.1 391.6 426.1 391.5 428.4 391.9 430.3 392.7 431.8 393.9 432.6 395.2 433.5 397.5 434.7 404.8 435.3 407.2 436.1 409.3 437.7 411.9 439.5 414.3 442.3 417.3 449.1 422.6 454.9 427.9 456.0 429.2 457.7 431.7 458.3 432.8 458.6 434.1 458.5 435.7 457.8 437.7 456.6 440.3 455.0 443.3 452.0 447.6 449.9 449.9 448.8 450.8 447.6 451.6 444.9 453.0 440.7 454.5 432.6 456.7 430.0 457.2 427.4 457.5 424.7 457.5 421.9 457.2 419.0 456.7 416.0 455.9 413.1 454.9 410.4 453.8 406.7 451.9 404.4 450.3 402.4 448.7 400.6 446.8 399.1 444.9 398.5 443.9 397.3 440.5 396.8 438.0 396.6 435.6 396.7 432.1 397.0 429.9 397.9 426.6 399.4 423.0 400.8 420.1 402.6 416.8 410.0 405.0 414.0 397.3 415.8 395.0 417.3 393.8 420.0 392.6 424.1 391.6ZM421.0 405.5 423.0 405.4 424.6 405.6 426.4 406.2 427.7 407.0 430.8 409.7 435.9 415.0 437.1 416.1 445.1 421.1 447.4 422.9 450.3 426.3 452.2 429.4 452.8 431.4 452.8 432.4 452.6 434.0 451.7 436.5 450.2 439.2 447.7 442.5 445.2 445.2 442.9 446.9 439.1 448.8 435.8 450.0 433.6 450.6 431.4 451.0 427.9 451.3 424.3 451.2 422.0 451.0 419.8 450.6 416.5 449.7 413.4 448.5 411.4 447.5 409.6 446.3 407.8 444.9 406.1 443.3 403.9 440.8 402.8 439.2 401.6 436.9 400.8 433.8 400.6 431.4 400.7 429.6 401.3 426.8 402.2 424.0 403.4 420.8 404.5 418.9 406.1 416.6 407.9 414.4 413.8 409.1 415.5 407.8 417.5 406.7 419.5 405.9 421.0 405.5ZM437.7 434.4 437.5 435.6 436.9 436.7 435.9 437.8 434.6 438.7 432.9 439.5 431.1 440.0 429.1 440.4 427.0 440.5 424.9 440.4 422.9 440.0 421.1 439.5 419.4 438.7 418.1 437.8 417.1 436.7 416.5 435.6 416.3 434.4 416.5 433.2 417.1 432.1 418.1 431.0 419.4 430.1 421.1 429.3 422.9 428.8 424.9 428.4 427.0 428.3 429.1 428.4 431.1 428.8 432.9 429.3 434.6 430.1 435.9 431.0 436.9 432.1 437.5 433.2 437.7 434.4ZM429.3 454.2 425.1 454.4 418.8 453.5 413.8 452.0 408.8 449.5 404.6 446.3 401.7 443.0 399.9 439.5 398.8 435.2 398.9 430.0 399.8 426.2 401.8 421.2 404.8 415.9 407.2 412.7 411.6 407.5 416.6 402.2 419.8 399.6 421.3 399.0 423.3 398.7 425.6 398.7 427.1 399.5 429.6 402.6 433.7 409.5 437.4 414.2 440.4 417.0 447.3 422.0 450.9 425.5 452.7 427.5 454.0 429.5 454.9 431.5 455.5 434.0 455.4 435.2 454.8 437.0 452.6 441.2 449.6 445.4 446.7 448.2 443.8 450.0 439.8 451.7 434.8 453.2 429.3 454.2ZM428.3 449.0 425.3 449.0 419.8 448.1 416.2 447.0 412.6 445.1 409.6 442.8 406.8 439.7 405.2 437.0 404.2 434.0 404.2 430.7 405.0 427.2 406.6 423.2 408.5 420.2 411.2 417.2 415.6 413.6 418.8 411.6 421.6 410.6 423.8 410.7 425.8 411.6 435.3 418.5 443.7 423.7 445.6 425.4 447.3 427.5 448.8 430.0 449.3 431.7 449.2 434.2 447.8 437.5 445.2 441.5 443.0 443.7 440.1 445.7 436.6 447.2 433.1 448.3 428.3 449.0ZM428.8 446.5 425.8 446.6 421.6 446.0 418.1 445.0 415.1 443.6 412.4 441.7 410.3 439.5 408.8 437.0 407.8 434.5 407.6 432.2 408.1 429.5 409.3 426.5 411.1 423.6 413.1 421.4 415.6 419.4 419.1 417.1 421.6 416.0 423.3 416.1 427.1 417.8 439.8 424.7 441.9 426.2 443.6 427.9 445.0 430.0 445.9 432.0 445.8 434.0 444.7 437.0 442.9 440.0 441.1 441.9 438.6 443.6 435.8 444.9 432.6 445.9 428.8 446.5ZM429.6 444.0 426.6 444.2 423.3 443.9 420.6 443.2 418.3 442.4 416.1 441.2 414.3 439.7 412.8 438.0 411.8 436.0 411.3 434.0 411.2 432.2 411.7 430.5 412.6 428.5 414.3 426.2 415.8 424.7 418.1 423.1 420.8 421.8 422.3 421.5 424.8 421.9 429.6 423.1 434.3 425.0 437.6 426.7 439.6 428.2 441.1 429.8 442.2 431.7 442.5 433.2 442.0 435.7 441.0 438.0 439.6 439.7 437.6 441.3 435.3 442.5 432.3 443.5 429.6 444.0ZM428.6 442.0 425.8 442.0 421.1 441.2 417.9 439.7 415.8 437.9 414.5 435.5 414.3 433.0 415.1 430.7 417.3 428.2 419.6 426.8 421.8 425.9 424.6 425.7 428.3 426.1 430.8 426.6 433.8 427.6 436.6 429.1 438.3 430.7 439.4 432.5 439.6 434.0 439.2 436.2 438.1 437.9 436.3 439.5 434.3 440.6 431.6 441.5 428.6 442.0Z" fill="none" stroke="#111" stroke-width="1.15" stroke-linejoin="round"/>
<path d="M411.6 394.0L448.3 429.5M405.0 395.1L455.3 443.8M400.6 397.3L456.2 451.0M406.5 408.0L463.0 462.6M393.5 399.9L465.4 469.3M387.4 399.2L466.4 475.5M387.0 404.8L458.4 473.7M395.2 419.9L439.2 462.4" stroke="#111" stroke-width="1.3" fill="none" stroke-linecap="butt"/>
<ellipse cx="451.50" cy="471.80" rx="13.30" ry="13.70" transform="rotate(0 451.50 471.80)" fill="none" stroke="#111" stroke-width="1.15"/>
<ellipse cx="452.20" cy="471.40" rx="8.70" ry="8.00" transform="rotate(20 452.20 471.40)" fill="none" stroke="#111" stroke-width="1.15"/>
</svg>
</body></html>
